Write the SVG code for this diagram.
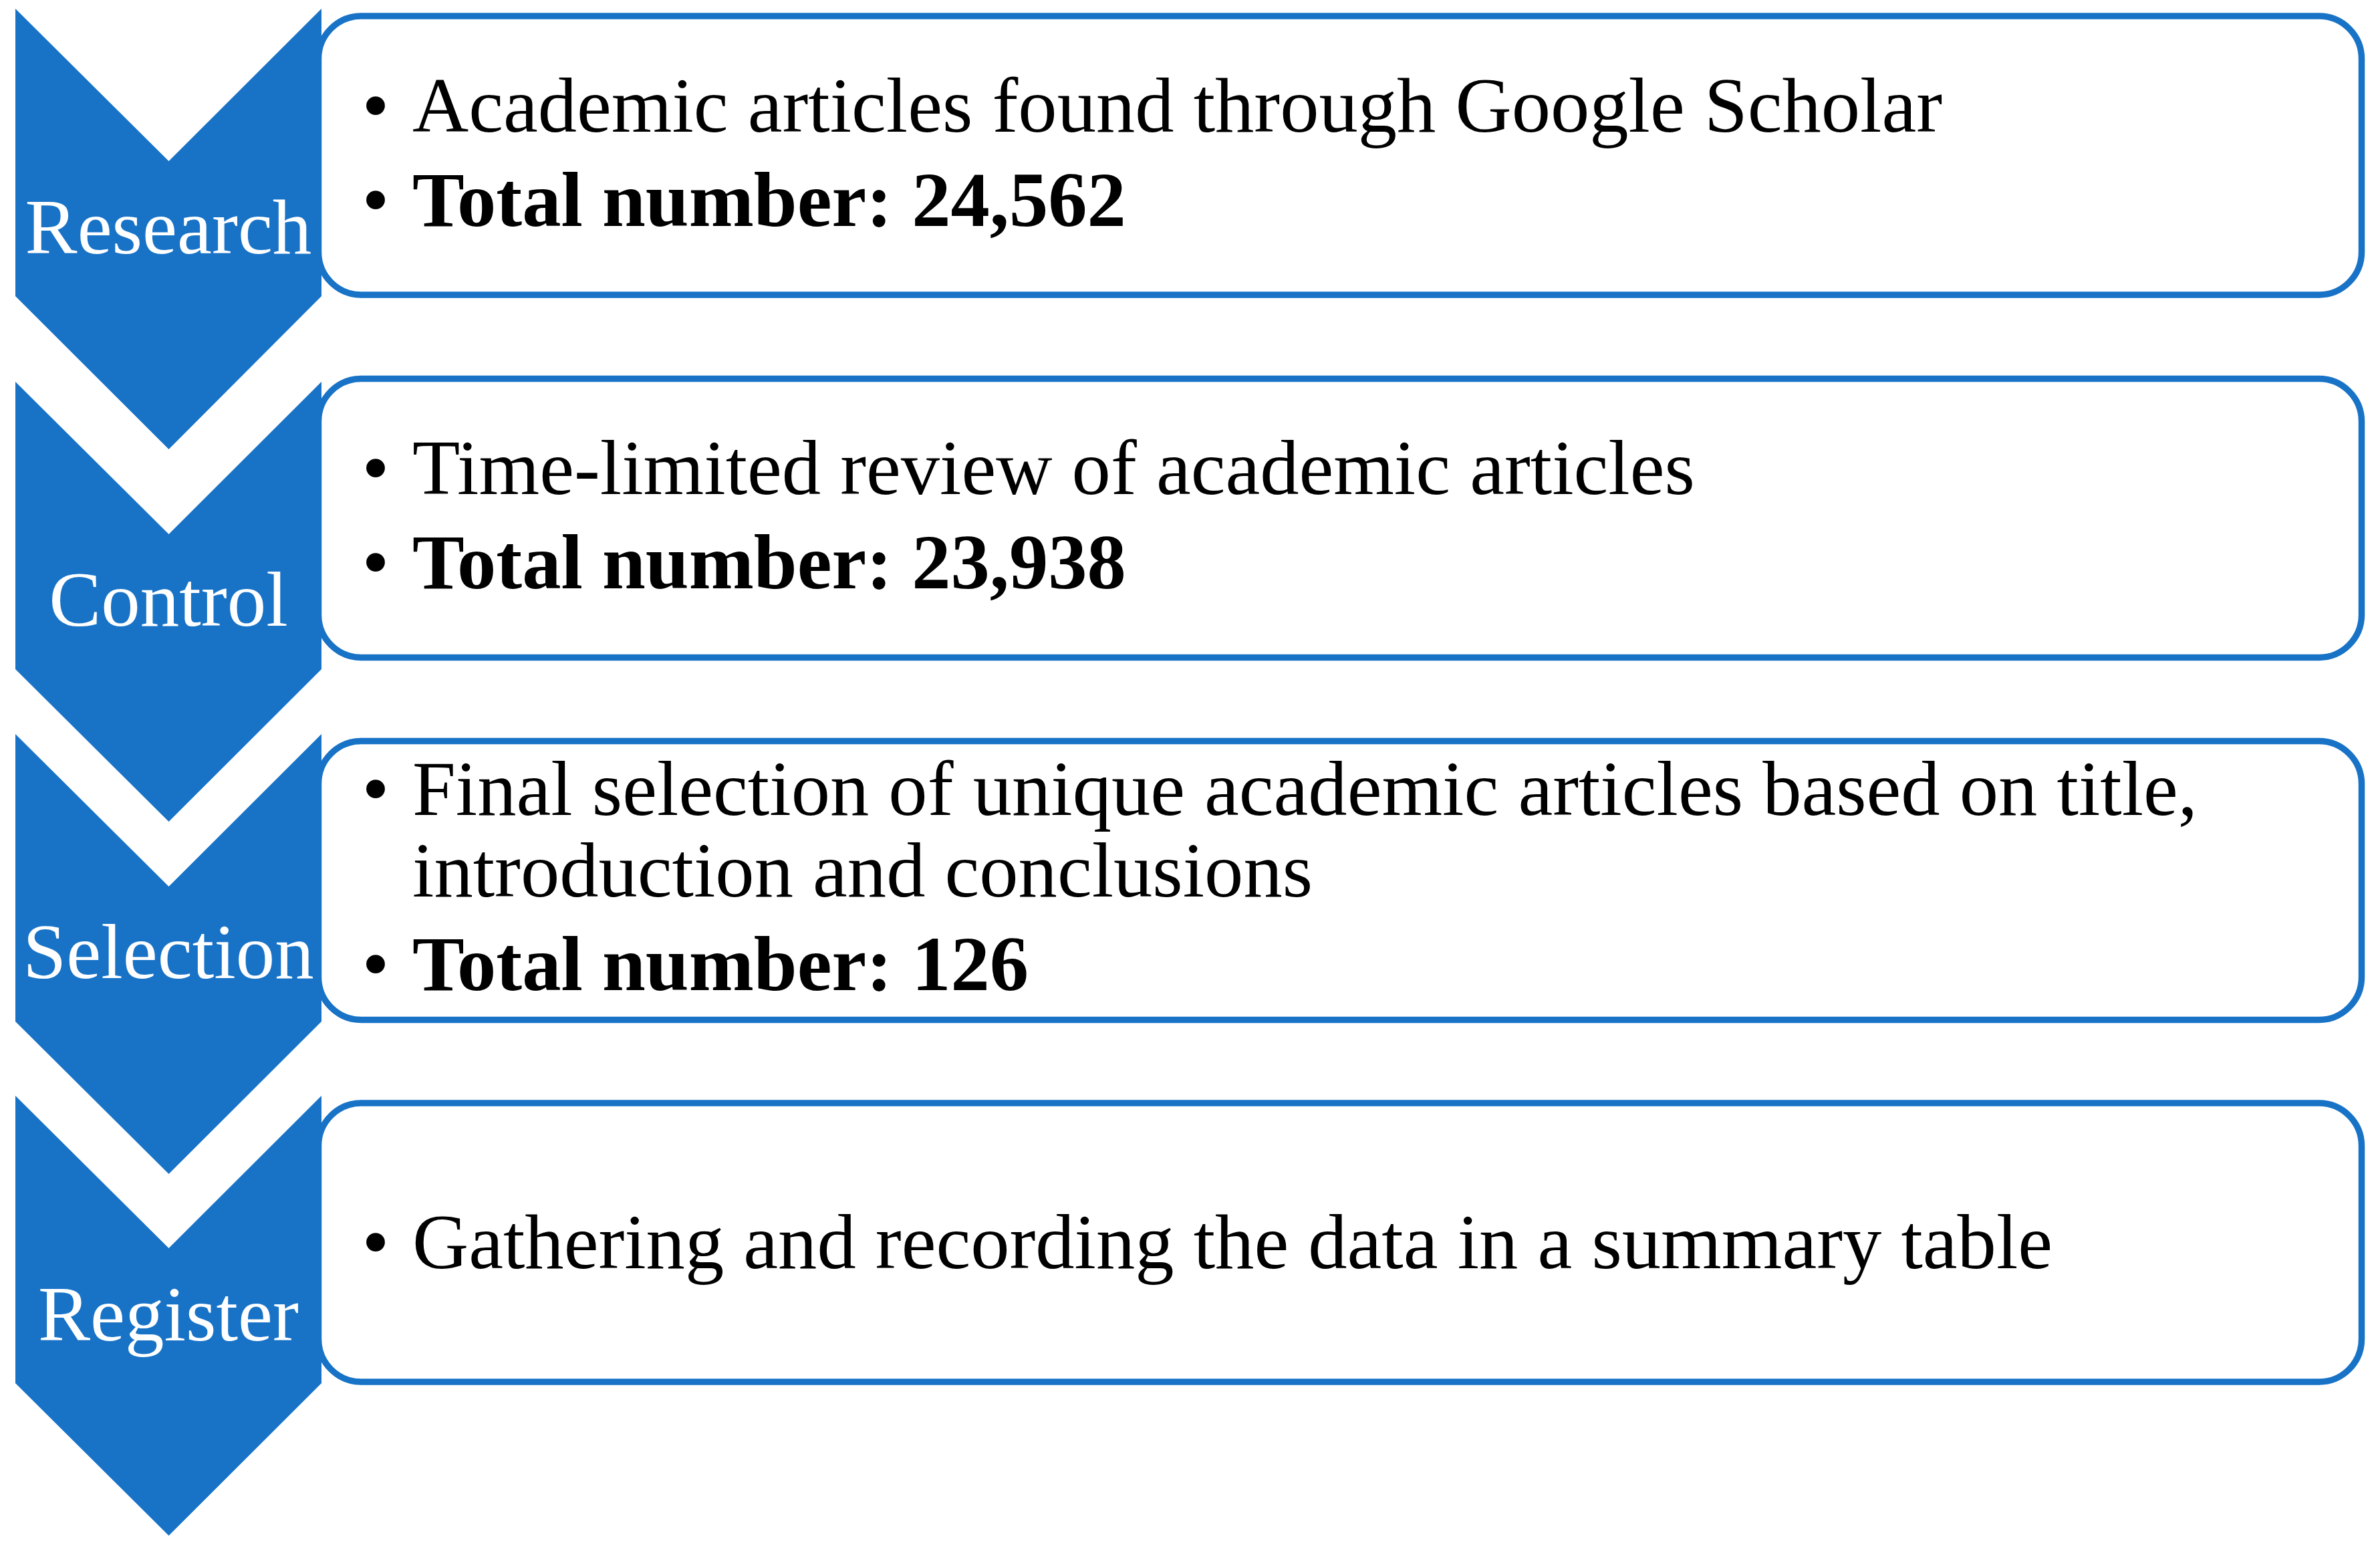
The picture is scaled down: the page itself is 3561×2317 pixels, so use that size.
<svg xmlns="http://www.w3.org/2000/svg" width="3561" height="2317" viewBox="0 0 3561 2317">
<style>
.box{fill:#ffffff;stroke:#1873C7;stroke-width:9.5}
.chev{fill:#1873C7;stroke:none}
.lab{font-family:"Liberation Serif","Times New Roman",serif;font-size:117px;fill:#ffffff;text-anchor:middle}
.txt{font-family:"Liberation Serif","Times New Roman",serif;font-size:116.6px;fill:#000000}
.b{font-weight:bold}
.bul{font-family:"Liberation Serif","Times New Roman",serif;font-size:117px;fill:#000000;text-anchor:middle}
</style>
<rect width="3561" height="2317" fill="#ffffff"/>
<g id="connectors"/>
<g id="step-research">
  <rect class="box" x="476.5" y="24" width="3057" height="417" rx="64" ry="64"/>
  <polygon class="chev" points="23,13 252.5,241 481,13 481,443 252.5,672 23,443"/>
  <text class="lab" x="252" y="379">Research</text>
  <text class="bul" x="562" y="197">•</text>
  <text class="txt" x="617" y="197">Academic articles found through Google Scholar</text>
  <text class="bul" x="562" y="338">•</text>
  <text class="txt b" x="617" y="338">Total number: 24,562</text>
</g>
<g id="step-control">
  <rect class="box" x="476.5" y="566.5" width="3057" height="417" rx="64" ry="64"/>
  <polygon class="chev" points="23,571 252.5,799 481,571 481,1001 252.5,1229 23,1001"/>
  <text class="lab" x="252" y="936">Control</text>
  <text class="bul" x="562" y="739">•</text>
  <text class="txt" x="617" y="739">Time-limited review of academic articles</text>
  <text class="bul" x="562" y="880">•</text>
  <text class="txt b" x="617" y="880">Total number: 23,938</text>
</g>
<g id="step-selection">
  <rect class="box" x="476.5" y="1108.5" width="3057" height="417" rx="64" ry="64"/>
  <polygon class="chev" points="23,1098 252.5,1326 481,1098 481,1528 252.5,1756 23,1528"/>
  <text class="lab" x="252" y="1463">Selection</text>
  <text class="bul" x="562" y="1219">•</text>
  <text class="txt" x="617" y="1219">Final selection of unique academic articles based on title,</text>
  <text class="txt" x="617" y="1341">introduction and conclusions</text>
  <text class="bul" x="562" y="1481">•</text>
  <text class="txt b" x="617" y="1481">Total number: 126</text>
</g>
<g id="step-register">
  <rect class="box" x="476.5" y="1650" width="3057" height="417" rx="64" ry="64"/>
  <polygon class="chev" points="23,1639 252.5,1867 481,1639 481,2069 252.5,2297 23,2069"/>
  <text class="lab" x="252" y="2005">Register</text>
  <text class="bul" x="562" y="1897">•</text>
  <text class="txt" x="617" y="1897">Gathering and recording the data in a summary table</text>
</g>
</svg>
